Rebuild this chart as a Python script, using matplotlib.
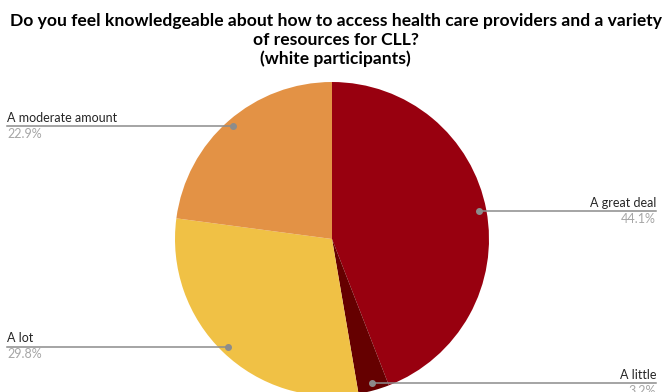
import matplotlib.pyplot as plt
import numpy as np

labels = ["A great deal", "A little", "A lot", "A moderate amount"]
shares = [44.1, 3.2, 29.8, 22.9]
colors = ["#98000f", "#650000", "#f0c145", "#e39245"]
title = ("Do you feel knowledgeable about how to access health care providers and a variety\n"
         "of resources for CLL?\n(white participants)")

W, H = 671, 392
fig = plt.figure(figsize=(W / 100, H / 100), dpi=100)
ax = fig.add_axes([0, 0, 1, 1])

cx, cy, R = 332, H - 239, 157
wedges, _ = ax.pie(shares, colors=colors, startangle=90, counterclock=False,
                   center=(cx, cy), radius=R, frame=True,
                   wedgeprops=dict(linewidth=0))
ax.set_xlim(0, W)
ax.set_ylim(0, H)
ax.set_aspect("equal")
ax.axis("off")

# leader lines from a dot inside each slice out to the label side
fam = ["Lato", "DejaVu Sans"]
for w, lab, val in zip(wedges, labels, shares):
    mid = np.deg2rad((w.theta1 + w.theta2) / 2)
    px = cx + 0.955 * R * np.cos(mid)
    py = cy + 0.955 * R * np.sin(mid)
    right = np.cos(mid) > 0
    ex = 656 if right else 7
    ax.plot([px, ex], [py, py], color="#8c8c8c", lw=1.1, zorder=3)
    ax.plot(px, py, "o", color="#8c8c8c", ms=4, zorder=4)
    ha = "right" if right else "left"
    ax.text(ex, py + 2.5, lab, ha=ha, va="bottom", fontsize=9,
            color="#262626", family=fam)
    ax.text(ex, py - 1.5, f"{val}%", ha=ha, va="top", fontsize=9,
            color="#a6a6a6", family=fam)

fig.text(0.5, 1 - 13 / H, title, ha="center", va="top", fontsize=12.6,
         fontweight="bold", family=fam, linespacing=1.2)

fig.savefig("out.png", dpi=100)
